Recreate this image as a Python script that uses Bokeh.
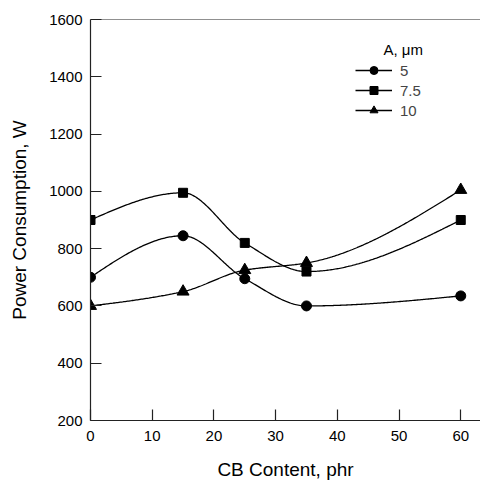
import numpy as np
from bokeh.plotting import figure
from bokeh.models import Legend, LegendItem, Span, Label, Range1d, FixedTicker
from bokeh.embed import file_html
from bokeh.resources import INLINE

# CB content (phr) and power consumption (W) for three particle sizes A
cb_content = [0, 15, 25, 35, 60]
power_5 = [700, 845, 695, 600, 635]
power_7_5 = [900, 995, 820, 720, 900]
power_10 = [600, 650, 725, 750, 1005]
series_labels = ["5", "7.5", "10"]
x_ticks = [0, 10, 20, 30, 40, 50, 60]
y_ticks = [200, 400, 600, 800, 1000, 1200, 1400, 1600]

FONT = "Liberation Sans"


def smooth_curve(xs, ys, n=300):
    """Shape-preserving cubic Hermite curve through the points
    (Fritsch-Carlson slopes inside, zero curvature at both ends)."""
    xs = np.asarray(xs, float)
    ys = np.asarray(ys, float)
    k = len(xs)
    h = np.diff(xs)
    delta = np.diff(ys) / h
    d = np.zeros(k)
    for i in range(1, k - 1):
        if delta[i - 1] * delta[i] <= 0:
            d[i] = 0.0
        else:
            w1 = 2 * h[i] + h[i - 1]
            w2 = h[i] + 2 * h[i - 1]
            d[i] = (w1 + w2) / (w1 / delta[i - 1] + w2 / delta[i])
    d[0] = (3 * delta[0] - d[1]) / 2
    d[-1] = (3 * delta[-1] - d[-2]) / 2
    xx = np.linspace(xs[0], xs[-1], n)
    yy = np.empty_like(xx)
    for j, xv in enumerate(xx):
        i = min(np.searchsorted(xs, xv, side="right") - 1, k - 2)
        t = (xv - xs[i]) / h[i]
        h00 = 2 * t ** 3 - 3 * t ** 2 + 1
        h10 = t ** 3 - 2 * t ** 2 + t
        h01 = -2 * t ** 3 + 3 * t ** 2
        h11 = t ** 3 - t ** 2
        yy[j] = (h00 * ys[i] + h10 * h[i] * d[i]
                 + h01 * ys[i + 1] + h11 * h[i] * d[i + 1])
    return xx, yy


p = figure(width=480, height=482, output_backend="svg", toolbar_location=None,
           x_range=Range1d(0, 63.2), y_range=Range1d(200, 1600),
           min_border_left=90, min_border_right=0, min_border_top=19,
           min_border_bottom=60)
p.outline_line_color = None
p.grid.visible = False
p.background_fill_color = "white"
p.border_fill_color = "white"

for ax in (p.xaxis[0], p.yaxis[0]):
    ax.major_tick_in = 11
    ax.major_tick_out = 0
    ax.minor_tick_in = 0
    ax.minor_tick_out = 0
    ax.axis_line_color = "#222222"
    ax.axis_line_width = 1.2
    ax.major_tick_line_color = "#222222"
    ax.major_tick_line_width = 1.2
    ax.major_label_text_font = FONT
    ax.major_label_text_font_size = "15px"
    ax.major_label_text_color = "black"
    ax.axis_label_text_font = FONT
    ax.axis_label_text_font_size = "19px"
    ax.axis_label_text_font_style = "normal"
    ax.axis_label_text_color = "black"

p.xaxis.ticker = FixedTicker(ticks=x_ticks)
p.yaxis.ticker = FixedTicker(ticks=y_ticks)
p.xaxis.axis_label = "CB Content, phr"
p.yaxis.axis_label = "Power Consumption, W"
p.xaxis.major_label_standoff = 10
p.xaxis.axis_label_standoff = 15
p.yaxis.major_label_standoff = 8
p.yaxis.axis_label_standoff = 16

# top frame edge
p.add_layout(Span(location=1600, dimension="width", line_color="#222222", line_width=1.2))

items = []
for ys, marker, size, lab in [
    (power_5, "circle", 10, series_labels[0]),
    (power_7_5, "square", 9, series_labels[1]),
    (power_10, "triangle", 12, series_labels[2]),
]:
    xx, yy = smooth_curve(cb_content, ys)
    ln = p.line(xx, yy, line_color="black", line_width=1.3)
    sc = p.scatter(cb_content, ys, marker=marker, size=size,
                   fill_color="black", line_color="black")
    items.append(LegendItem(label=lab, renderers=[ln, sc]))

legend = Legend(items=items, location=(265, 300), glyph_width=37, glyph_height=20,
                spacing=0, padding=0, margin=0, label_standoff=8,
                label_text_font=FONT, label_text_font_size="15px",
                label_height=20, border_line_color=None,
                background_fill_alpha=0)
p.add_layout(legend, "center")

p.add_layout(Label(x=293, y=363, x_units="screen", y_units="screen",
                   text="A, \u03bcm", text_font=FONT, text_font_size="15px",
                   text_color="black"))

open("out.html", "w").write(file_html(p, INLINE))
